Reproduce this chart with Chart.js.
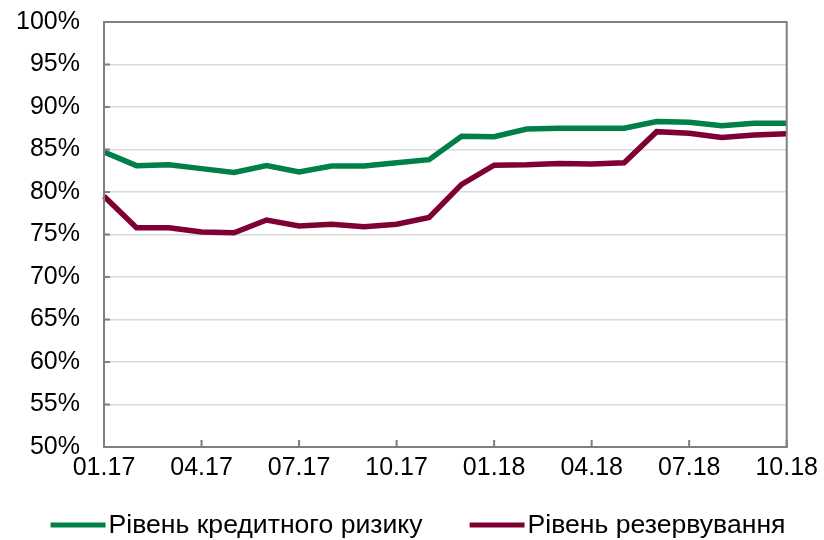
<!DOCTYPE html>
<html>
<head>
<meta charset="utf-8">
<script src="https://cdn.jsdelivr.net/npm/chart.js@4"></script>
<style>
  html, body { margin: 0; padding: 0; background: #fff; }
  #wrap { width: 824px; height: 540px; }
</style>
</head>
<body>
<div id="wrap"><canvas id="grafik"></canvas></div>
<script>
// місяці 01.17 - 10.18
const misyatsi = ['01.17','02.17','03.17','04.17','05.17','06.17','07.17','08.17','09.17','10.17','11.17','12.17',
                  '01.18','02.18','03.18','04.18','05.18','06.18','07.18','08.18','09.18','10.18'];

// рівень кредитного ризику, %
const kredytnyiRyzyk = [84.7, 83.1, 83.2, 82.75, 82.3, 83.1, 82.35, 83.05, 83.05, 83.45, 83.8, 86.55,
                        86.5, 87.4, 87.5, 87.5, 87.5, 88.3, 88.2, 87.8, 88.1, 88.1];

// рівень резервування, %
const rezervuvannia = [79.5, 75.8, 75.8, 75.3, 75.2, 76.7, 76.0, 76.2, 75.9, 76.2, 77.0, 80.9,
                       83.15, 83.2, 83.35, 83.3, 83.45, 87.1, 86.9, 86.4, 86.7, 86.85];

const nazvySerii = ['Рівень кредитного ризику', 'Рівень резервування'];
const krokPidpysiv = 3; // підпис кожного третього місяця

const ZELENYI = '#008048';
const BORDOVYI = '#7F0032';
const SHRYFT = '"Liberation Sans", Arial, sans-serif';

// рамка області графіка та внутрішні риски на осях
const ramka = {
  id: 'ramka',
  afterDraw(chart) {
    const { ctx, chartArea: a, scales } = chart;
    ctx.save();
    ctx.strokeStyle = '#7f7f7f';
    ctx.lineWidth = 2;
    ctx.strokeRect(a.left, a.top, a.right - a.left, a.bottom - a.top);
    ctx.beginPath();
    scales.y.ticks.forEach(t => {
      const y = scales.y.getPixelForValue(t.value);
      ctx.moveTo(a.left, y);
      ctx.lineTo(a.left + 6, y);
    });
    misyatsi.forEach((m, i) => {
      if (i % krokPidpysiv !== 0) return;
      const x = scales.x.getPixelForValue(i);
      ctx.moveTo(x, a.bottom);
      ctx.lineTo(x, a.bottom - 7);
    });
    ctx.stroke();
    ctx.restore();
  }
};

// легенда під графіком: коротка лінія + назва ряду
const legenda = {
  id: 'legenda',
  afterDraw(chart) {
    const ctx = chart.ctx;
    const dovzhLinii = 55, vidstup = 3, mizh = 47, tsentrX = 418, y = 525;
    ctx.save();
    ctx.font = '26.6px ' + SHRYFT;
    ctx.textBaseline = 'middle';
    const ds = chart.data.datasets;
    const shyryny = ds.map(d => ctx.measureText(d.label).width);
    const vsogo = shyryny.reduce((s, w) => s + w + dovzhLinii + vidstup, 0) + mizh * (ds.length - 1);
    let x = tsentrX - vsogo / 2;
    ds.forEach((d, i) => {
      ctx.strokeStyle = d.borderColor;
      ctx.lineWidth = 5;
      ctx.beginPath();
      ctx.moveTo(x, y);
      ctx.lineTo(x + dovzhLinii, y);
      ctx.stroke();
      x += dovzhLinii + vidstup;
      ctx.fillStyle = '#000';
      ctx.fillText(d.label, x, y + 1);
      x += shyryny[i] + mizh;
    });
    ctx.restore();
  }
};

new Chart(document.getElementById('grafik'), {
  type: 'line',
  data: {
    labels: misyatsi,
    datasets: [
      { label: nazvySerii[0], data: kredytnyiRyzyk, borderColor: ZELENYI, backgroundColor: ZELENYI,
        borderWidth: 5.5, pointRadius: 0, tension: 0 },
      { label: nazvySerii[1], data: rezervuvannia, borderColor: BORDOVYI, backgroundColor: BORDOVYI,
        borderWidth: 5.5, pointRadius: 0, tension: 0 }
    ]
  },
  options: {
    responsive: true,
    maintainAspectRatio: false,
    animation: false,
    layout: { padding: { top: 22, right: 36, left: 0, bottom: 53 } },
    plugins: {
      tooltip: { enabled: false },
      legend: { display: false }
    },
    scales: {
      x: {
        offset: false,
        grid: { display: false, drawTicks: false },
        border: { display: false },
        ticks: {
          autoSkip: false,
          maxRotation: 0,
          padding: 6,
          color: '#000',
          font: { family: SHRYFT, size: 25 },
          callback: (v, i) => (i % krokPidpysiv === 0 ? misyatsi[i] : null)
        },
        afterFit: s => { s.height = 40; }
      },
      y: {
        min: 50,
        max: 100,
        grid: { color: '#d9d9d9', lineWidth: 1.5, drawTicks: false },
        border: { display: false },
        ticks: {
          stepSize: 5,
          padding: 24,
          color: '#000',
          font: { family: SHRYFT, size: 25 },
          callback: v => v + '%'
        },
        afterFit: s => { s.width = 104; s.paddingTop = 0; s.paddingBottom = 0; }
      }
    }
  },
  plugins: [ramka, legenda]
});
</script>
</body>
</html>
